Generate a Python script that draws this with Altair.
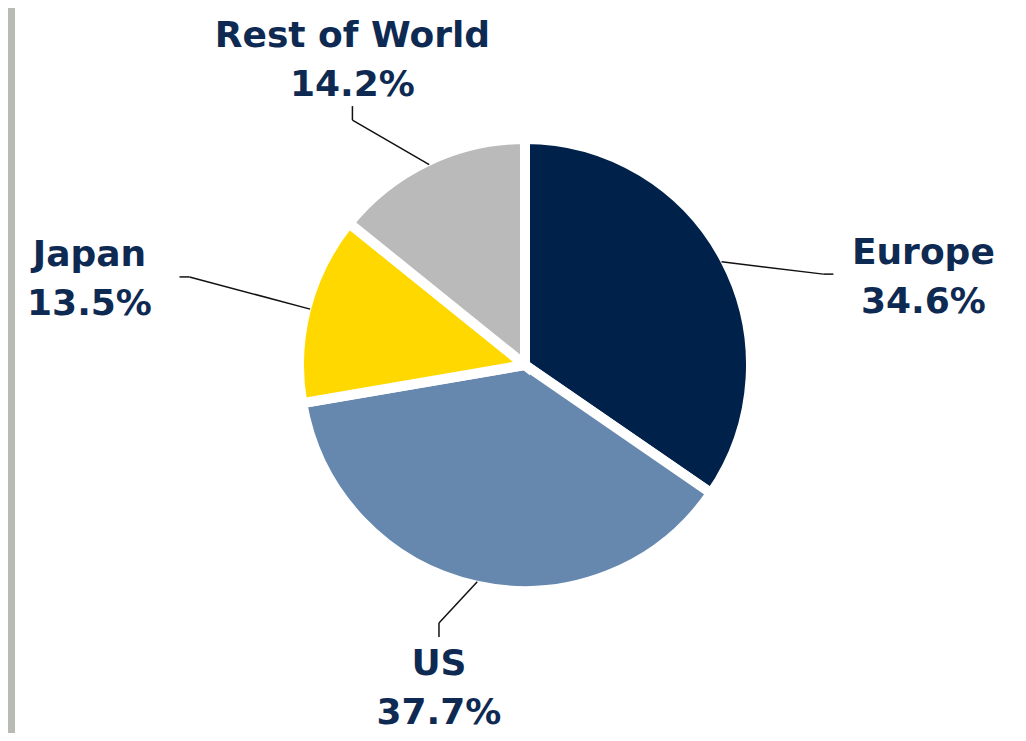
import altair as alt
import pandas as pd

# ---- data ----
categories = ["Europe", "US", "Japan", "Rest of World"]
shares = [34.6, 37.7, 13.5, 14.2]

# ---- styles ----
slice_colors = ["#00224A", "#6688AE", "#FFD800", "#BABABA"]
text_color = "#0E2A52"

df = pd.DataFrame({
    "category": categories,
    "share": shares,
    "idx": list(range(len(categories))),
})

W, H = 1003, 725
CX, CY = 510, 357            # pie centre inside the plot area (px)
LINE_H = 49
xscale = alt.Scale(domain=[-CX, W - CX], nice=False, zero=False)
yscale = alt.Scale(domain=[-(H - CY), CY], nice=False, zero=False)

base = alt.Chart(df)

pie = base.mark_arc(radius=226, stroke="white", strokeWidth=10).encode(
    theta=alt.Theta("share:Q", stack=True),
    order=alt.Order("idx:Q"),
    color=alt.Color("category:N", scale=alt.Scale(domain=categories, range=slice_colors), legend=None),
    x=alt.X(datum=0, type="quantitative", scale=xscale, axis=None),
    y=alt.Y(datum=0, type="quantitative", scale=yscale, axis=None),
)

geo = base.transform_joinaggregate(
    total="sum(share)"
).transform_window(
    cum="sum(share)", sort=[alt.SortField("idx")], frame=[None, 0]
).transform_calculate(
    mid="2*PI*(datum.cum - datum.share/2)/datum.total",
    sx="sin(datum.mid)",
    cy="cos(datum.mid)",
    side="abs(datum.sx) > 0.7",
    sgx="datum.sx > 0 ? 1 : -1",
    lx="datum.side ? 450*datum.sx : 400*datum.sx",
    ly="datum.side ? 338*clamp(datum.cy, -0.26, 0.26) : 338*datum.cy",
    # keep the two-line label block inside the plot area
    ty=f"max(datum.ly + {LINE_H / 2}, {-(H - CY) + 69})",
    ex="datum.side ? datum.lx - datum.sgx*90 : datum.lx",
    ey="datum.side ? datum.ly + 3 : (datum.cy > 0 ? datum.ly - 46 : datum.ly + 58)",
    bx="datum.side ? datum.ex - datum.sgx*10 : datum.ex",
    by="datum.side ? datum.ey : (datum.cy > 0 ? datum.ey - 14 : datum.ey + 14)",
    px="222*datum.sx",
    py="222*datum.cy",
    label="datum.category + '\\n' + format(datum.share, '.1f') + '%'",
)

leader1 = geo.mark_rule(color="#111111", strokeWidth=1.5).encode(
    x=alt.X("px:Q", scale=xscale, axis=None),
    y=alt.Y("py:Q", scale=yscale, axis=None),
    x2="bx:Q",
    y2="by:Q",
)
leader2 = geo.mark_rule(color="#111111", strokeWidth=1.5).encode(
    x=alt.X("bx:Q", scale=xscale, axis=None),
    y=alt.Y("by:Q", scale=yscale, axis=None),
    x2="ex:Q",
    y2="ey:Q",
)

labels = geo.mark_text(
    font="DejaVu Sans", fontWeight="bold", fontSize=36, lineHeight=LINE_H,
    lineBreak="\n", align="center", baseline="middle", color=text_color,
).encode(
    x=alt.X("lx:Q", scale=xscale, axis=None),
    y=alt.Y("ty:Q", scale=yscale, axis=None),
    text="label:N",
)

chart = alt.layer(pie, leader1, leader2, labels).properties(
    width=W, height=H,
    autosize="none",
    padding={"left": 7, "top": 0, "right": 0, "bottom": 0},
    background="#B8BAB4",
).configure_view(fill="white", strokeWidth=0)

chart.save("out.html", embed_options={"renderer": "svg", "actions": False})
